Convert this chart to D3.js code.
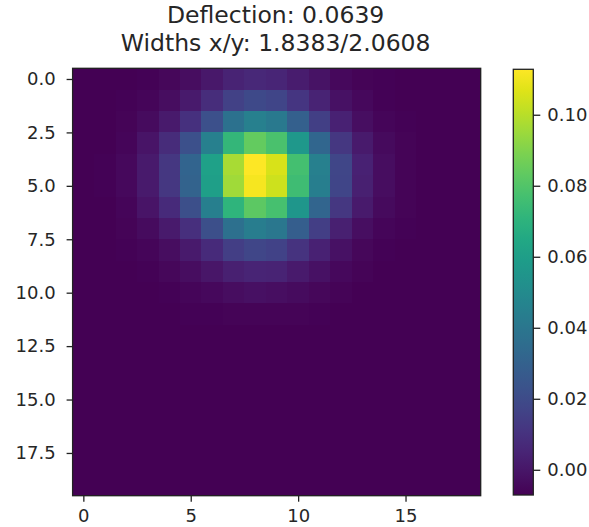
<!DOCTYPE html>
<html>
<head>
<meta charset="utf-8">
<script src="https://cdn.jsdelivr.net/npm/d3@7"></script>
<style>
  html, body { margin: 0; padding: 0; background: #ffffff; }
  svg { display: block; }
  text { font-family: "DejaVu Sans", sans-serif; fill: #262626; }
</style>
</head>
<body>
<svg id="chart" width="589" height="527"></svg>
<script>
// Deflection field sampled on a 20 x 19 grid (rows = y, columns = x)
const B = -0.0071;
const row00 = [B, -0.0071, -0.0068, -0.0062, -0.0050, -0.0029, 0.0004, 0.0044, 0.0061, 0.0053, 0.0021, -0.0014, -0.0043, -0.0059, -0.0066, -0.0069, -0.0071, B, B];
const row01 = [B, -0.0070, -0.0066, -0.0053, -0.0029, 0.0013, 0.0079, 0.0159, 0.0193, 0.0177, 0.0114, 0.0043, -0.0016, -0.0047, -0.0062, -0.0068, -0.0070, B, B];
const row02 = [B, -0.0069, -0.0061, -0.0035, 0.0012, 0.0094, 0.0223, 0.0378, 0.0445, 0.0414, 0.0290, 0.0151, 0.0037, -0.0025, -0.0053, -0.0065, -0.0069, B, B];
const row03 = [B, -0.0067, -0.0053, -0.0007, 0.0075, 0.0221, 0.0448, 0.0722, 0.0840, 0.0785, 0.0567, 0.0321, 0.0120, 0.0011, -0.0039, -0.0060, -0.0068, B, B];
const row04 = [B, -0.0066, -0.0047, 0.0013, 0.0121, 0.0313, 0.0612, 0.0972, 0.1128, 0.1056, 0.0768, 0.0445, 0.0181, 0.0037, -0.0029, -0.0057, -0.0067, B, B];
const row05 = [B, -0.0066, -0.0047, 0.0012, 0.0118, 0.0307, 0.0602, 0.0956, 0.1110, 0.1039, 0.0756, 0.0437, 0.0177, 0.0035, -0.0030, -0.0057, -0.0067, B, B];
const row06 = [B, -0.0067, -0.0053, -0.0008, 0.0073, 0.0217, 0.0441, 0.0711, 0.0828, 0.0774, 0.0558, 0.0316, 0.0118, 0.0010, -0.0040, -0.0060, -0.0068, B, B];
const row07 = [B, -0.0069, -0.0061, -0.0036, 0.0010, 0.0090, 0.0216, 0.0367, 0.0433, 0.0403, 0.0282, 0.0146, 0.0035, -0.0026, -0.0053, -0.0065, -0.0069, B, B];
const row08 = [B, -0.0070, -0.0066, -0.0053, -0.0031, 0.0010, 0.0073, 0.0148, 0.0181, 0.0166, 0.0105, 0.0037, -0.0018, -0.0048, -0.0062, -0.0068, -0.0070, B, B];
const row09 = [B, -0.0071, -0.0069, -0.0063, -0.0052, -0.0033, -0.0003, 0.0033, 0.0049, 0.0042, 0.0013, -0.0019, -0.0046, -0.0060, -0.0067, -0.0070, -0.0071, B, B];
const row10 = [B, B, -0.0070, -0.0068, -0.0063, -0.0056, -0.0044, -0.0029, -0.0023, -0.0026, -0.0037, -0.0050, -0.0061, -0.0067, -0.0069, B, B, B, B];
const row11 = [B, B, B, B, -0.0069, -0.0066, -0.0063, -0.0058, -0.0057, -0.0057, -0.0061, -0.0065, -0.0068, B, B, B, B, B, B];
const row12 = [B, B, B, B, B, B, -0.0070, -0.0069, -0.0069, -0.0069, -0.0070, B, B, B, B, B, B, B, B];
const row13 = [B, B, B, B, B, B, B, B, B, B, B, B, B, B, B, B, B, B, B];
const row14 = [B, B, B, B, B, B, B, B, B, B, B, B, B, B, B, B, B, B, B];
const row15 = [B, B, B, B, B, B, B, B, B, B, B, B, B, B, B, B, B, B, B];
const row16 = [B, B, B, B, B, B, B, B, B, B, B, B, B, B, B, B, B, B, B];
const row17 = [B, B, B, B, B, B, B, B, B, B, B, B, B, B, B, B, B, B, B];
const row18 = [B, B, B, B, B, B, B, B, B, B, B, B, B, B, B, B, B, B, B];
const row19 = [B, B, B, B, B, B, B, B, B, B, B, B, B, B, B, B, B, B, B];
const grid = [row00, row01, row02, row03, row04, row05, row06, row07, row08, row09,
              row10, row11, row12, row13, row14, row15, row16, row17, row18, row19];

const xTicks = [0, 5, 10, 15];
const yTicks = [0, 2.5, 5, 7.5, 10, 12.5, 15, 17.5];
const cbarTicks = [0.00, 0.02, 0.04, 0.06, 0.08, 0.10];
const titleLines = ["Deflection: 0.0639", "Widths x/y: 1.8383/2.0608"];

const nRows = grid.length, nCols = grid[0].length;
const cells = [];
grid.forEach((row, r) => row.forEach((v, c) => cells.push({ r, c, v })));

const vMin = d3.min(cells, d => d.v), vMax = d3.max(cells, d => d.v);
const color = d3.scaleSequential(d3.interpolateViridis).domain([vMin, vMax]);

const svg = d3.select("#chart");
const plot = { left: 72.6, right: 480.7, top: 68.3, bottom: 495.7 };

const x = d3.scaleLinear().domain([-0.5, nCols - 0.5]).range([plot.left, plot.right]);
const y = d3.scaleLinear().domain([-0.5, nRows - 0.5]).range([plot.top, plot.bottom]);

// image cells
svg.append("g").attr("shape-rendering", "crispEdges")
  .selectAll("rect").data(cells).join("rect")
  .attr("x", d => x(d.c - 0.5))
  .attr("y", d => y(d.r - 0.5))
  .attr("width", d => x(d.c + 0.5) - x(d.c - 0.5) + 0.6)
  .attr("height", d => y(d.r + 0.5) - y(d.r - 0.5) + 0.6)
  .attr("fill", d => color(d.v));

// frame
svg.append("rect")
  .attr("x", plot.left).attr("y", plot.top)
  .attr("width", plot.right - plot.left).attr("height", plot.bottom - plot.top)
  .attr("fill", "none").attr("stroke", "#222").attr("stroke-width", 1.3);

const tickFont = 18;
const xAxis = svg.append("g").attr("transform", `translate(0,${plot.bottom})`)
  .call(d3.axisBottom(x).tickValues(xTicks).tickFormat(d3.format("d")).tickSize(6).tickPadding(8));
const yAxis = svg.append("g").attr("transform", `translate(${plot.left},0)`)
  .call(d3.axisLeft(y).tickValues(yTicks).tickFormat(d3.format(".1f")).tickSize(6).tickPadding(11));
[xAxis, yAxis].forEach(a => {
  a.select(".domain").remove();
  a.selectAll(".tick line").attr("stroke", "#222").attr("stroke-width", 1.3);
  a.selectAll(".tick text").attr("font-size", tickFont).attr("font-family", "DejaVu Sans").attr("fill", "#262626");
});

// colorbar
const cb = { left: 513.3, right: 533.3, top: 69.3, bottom: 495 };
const cy = d3.scaleLinear().domain([vMin, vMax]).range([cb.bottom, cb.top]);
const defs = svg.append("defs");
const grad = defs.append("linearGradient").attr("id", "cbgrad")
  .attr("x1", 0).attr("y1", 1).attr("x2", 0).attr("y2", 0);
d3.range(0, 1.0001, 0.05).forEach(t => {
  grad.append("stop").attr("offset", t).attr("stop-color", d3.interpolateViridis(t));
});
svg.append("rect")
  .attr("x", cb.left).attr("y", cb.top)
  .attr("width", cb.right - cb.left).attr("height", cb.bottom - cb.top)
  .attr("fill", "url(#cbgrad)").attr("stroke", "#222").attr("stroke-width", 1.3);
const cAxis = svg.append("g").attr("transform", `translate(${cb.right},0)`)
  .call(d3.axisRight(cy).tickValues(cbarTicks).tickFormat(d3.format(".2f")).tickSize(7).tickPadding(7));
cAxis.select(".domain").remove();
cAxis.selectAll(".tick line").attr("stroke", "#222").attr("stroke-width", 1.3);
cAxis.selectAll(".tick text").attr("font-size", tickFont).attr("font-family", "DejaVu Sans").attr("fill", "#262626");

// title
const cx = (plot.left + plot.right) / 2 - 1;
svg.append("g").selectAll("text").data(titleLines).join("text")
  .attr("x", cx)
  .attr("y", (d, i) => 23 + i * 28)
  .attr("text-anchor", "middle")
  .attr("font-size", 23.5)
  .text(d => d);
</script>
</body>
</html>
